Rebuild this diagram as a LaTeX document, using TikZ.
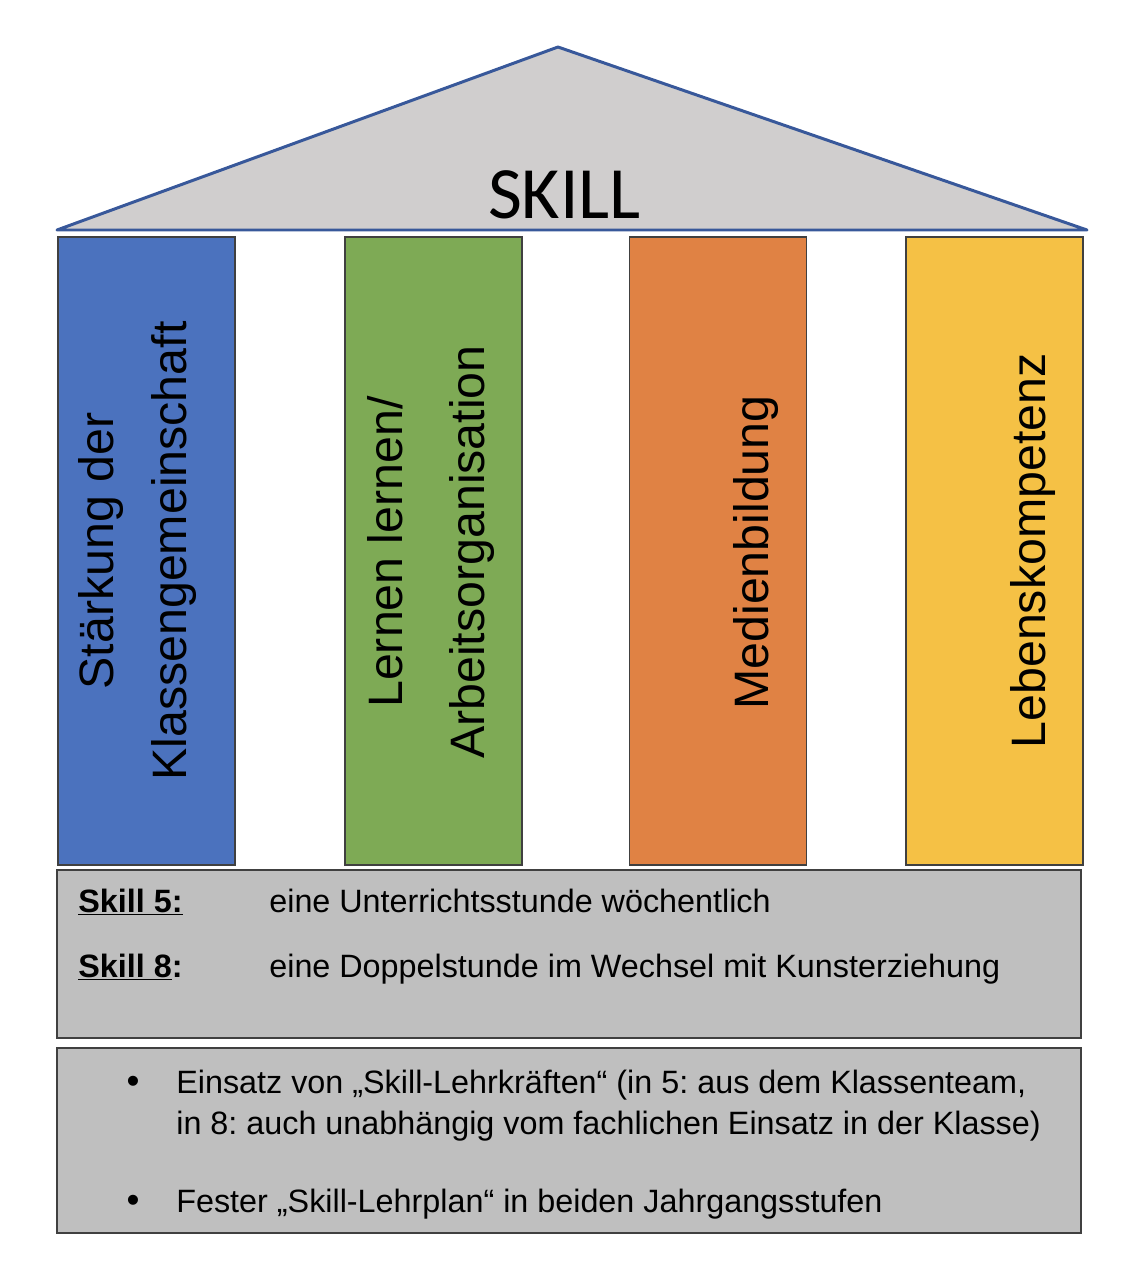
\documentclass[tikz,border=0pt]{standalone}
\usepackage{fontspec}
\setmainfont{Liberation Sans}
\newfontfamily\roofFont{Carlito}
\usepackage{tikz}
\usetikzlibrary{positioning}
\usepackage{xcolor}
\frenchspacing
\definecolor{roofFill}{RGB}{208, 206, 206}
\definecolor{roofLine}{RGB}{ 56,  88, 154}
\definecolor{pBlue}{RGB}{ 75, 114, 190}
\definecolor{pGreen}{RGB}{126, 170,  85}
\definecolor{pOrange}{RGB}{224, 130,  68}
\definecolor{pYellow}{RGB}{245, 193,  69}
\definecolor{boxFill}{RGB}{191, 191, 191}
\definecolor{edgeGray}{RGB}{ 64,  64,  64}
\tikzset{
  % Saeulen
  pillar/.style   = {draw=edgeGray, line width=0.85pt, inner sep=0pt,
                     minimum width=3.54cm, minimum height=12.56cm},
  ptext/.style    = {rotate=90, inner sep=0pt, align=center},
  % Kaesten unten
  infobox/.style  = {draw=edgeGray, line width=0.85pt, fill=boxFill, inner sep=0pt,
                     minimum width=20.48cm},
  infotext/.style = {inner sep=0pt, font=\fontsize{18.4}{23.3}\selectfont},
}
\begin{document}
\begin{tikzpicture}[x=0.02cm, y=-0.02cm]
  \useasboundingbox (0,0) rectangle (1148,1268);
  % Dach
  \draw[roofLine, fill=roofFill, line width=1.7pt, line join=round]
    (57,230) -- (558,47) -- (1087,230) -- cycle;
  \node[anchor=base, inner sep=0pt, font=\roofFont\fontsize{42}{42}\selectfont]
    (skill) at (564.5,218) {SKILL};
  % Saeulen
  \node[pillar, fill=pBlue]   (p1) at (146.5,551) {};
  \node[pillar, fill=pGreen]  (p2) at (433.5,551) {};
  \node[pillar, fill=pOrange] (p3) at (718,551)   {};
  \node[pillar, fill=pYellow] (p4) at (994.5,551) {};
  \node[ptext, font=\fontsize{27.5}{42}\selectfont]   (t1) at (137.5,551)
    {Stärkung der\\Klassengemeinschaft};
  \node[ptext, font=\fontsize{27.5}{46.5}\selectfont] (t2) at (431,552)
    {Lernen lernen/\\Arbeitsorganisation};
  \node[ptext, anchor=base, font=\fontsize{27.5}{33}\selectfont] (t3) at (768,552.5)
    {Medienbildung};
  \node[ptext, anchor=base, font=\fontsize{27.5}{33}\selectfont] (t4) at (1045,551)
    {Lebenskompetenz};
  % Stundenumfang
  \node[infobox, minimum height=3.36cm] (box1) at (569,954) {};
  \node[infotext, anchor=base west] (s5)  at (78,912)  {\underline{\textbf{Skill 5:}}};
  \node[infotext, anchor=base west] (s5t) at (269,912) {eine Unterrichtsstunde wöchentlich};
  \node[infotext, anchor=base west] (s8)  at (78,977)  {\underline{\textbf{Skill 8}}\textbf{:}};
  \node[infotext, anchor=base west] (s8t) at (269,977) {eine Doppelstunde im Wechsel mit Kunsterziehung};
  % Organisation
  \node[infobox, minimum height=3.7cm] (box2) at (569,1140.5) {};
  \node[infotext, anchor=base, font=\fontsize{21}{23.3}\selectfont] (b1) at (133,1093) {•};
  \node[infotext, anchor=north west, align=left] (b1t) at (176,1069.5)
    {Einsatz von „Skill-Lehrkräften“ (in 5: aus dem Klassenteam,\\
     in 8: auch unabhängig vom fachlichen Einsatz in der Klasse)};
  \node[infotext, anchor=base, font=\fontsize{21}{23.3}\selectfont] (b2) at (133,1212) {•};
  \node[infotext, anchor=base west] (b2t) at (176,1212)
    {Fester „Skill-Lehrplan“ in beiden Jahrgangsstufen};
\end{tikzpicture}
\end{document}
